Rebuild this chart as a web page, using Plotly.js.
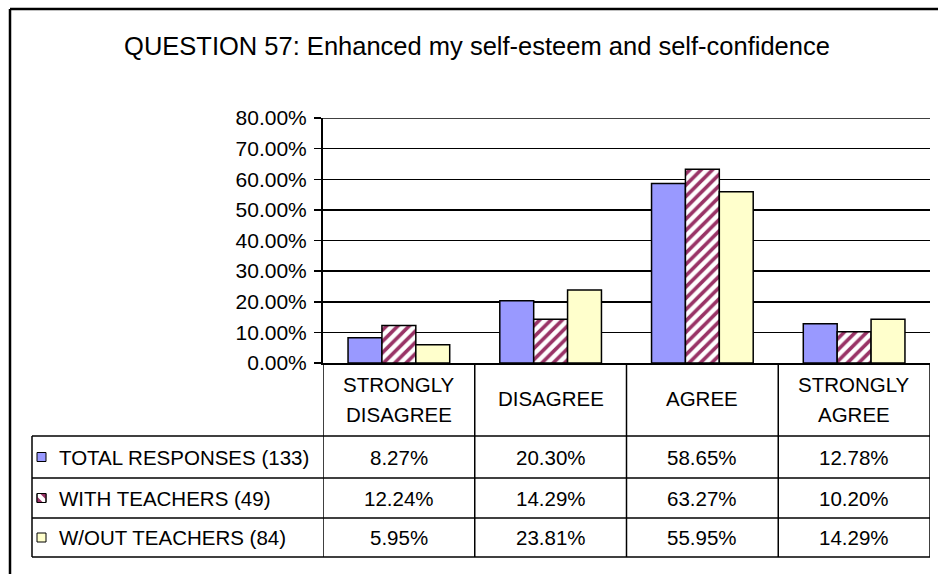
<!DOCTYPE html>
<html>
<head>
<meta charset="utf-8">
<script src="https://cdn.plot.ly/plotly-3.0.1.min.js"></script>
<style>html,body{margin:0;padding:0;background:#fff;}#chart{width:938px;height:574px;}</style>
</head>
<body>
<div id="chart"></div>
<script>
// ---- data ----
var categories = ["STRONGLY DISAGREE", "DISAGREE", "AGREE", "STRONGLY AGREE"];
var seriesNames = ["TOTAL RESPONSES (133)", "WITH TEACHERS (49)", "W/OUT TEACHERS (84)"];
var totalResponses = [0.0827, 0.2030, 0.5865, 0.1278];
var withTeachers = [0.1224, 0.1429, 0.6327, 0.1020];
var withoutTeachers = [0.0595, 0.2381, 0.5595, 0.1429];
var yTickVals = [0, 0.1, 0.2, 0.3, 0.4, 0.5, 0.6, 0.7, 0.8];
var titleText = "QUESTION 57: Enhanced my self-esteem and self-confidence";

// ---- layout helpers ----
var W = 938, H = 574;
function px(x) { return x / W; }
function py(y) { return 1 - y / H; }
var FONT = "Liberation Sans, Arial, sans-serif";
var TABLE_FONT = 20.5;
var seriesValues = [totalResponses, withTeachers, withoutTeachers];
var colors = ["#9999FF", "#FFFFFF", "#FFFFCC"];

var plotLeft = 323, plotRight = 930, plotTop = 118, plotBottom = 363;
var headerBottom = 436;
var rowLines = [436, 478, 518, 557];
var tableLeft = 32;

var traces = seriesNames.map(function (name, i) {
  var t = {
    type: "bar",
    name: name,
    x: categories,
    y: seriesValues[i],
    marker: { color: colors[i], line: { color: "#000", width: 1.5 } },
    hoverinfo: "x+y+name"
  };
  if (i === 1) {
    t.marker.pattern = { shape: "/", fgcolor: "#993366", bgcolor: "#FFFFFF", size: 8, solidity: 0.45 };
  }
  return t;
});

var shapes = [];
var lineStyle = { color: "#000", width: 1.5 };
// outer chart border (top and left visible)
shapes.push({ type: "line", xref: "paper", yref: "paper", x0: px(10), x1: px(938), y0: py(9), y1: py(9), line: { color: "#000", width: 2.5 } });
shapes.push({ type: "line", xref: "paper", yref: "paper", x0: px(10), x1: px(10), y0: py(9), y1: py(574), line: { color: "#000", width: 2.5 } });
// top gridline (80%)
shapes.push({ type: "line", xref: "x", yref: "y", x0: -0.5, x1: categories.length - 0.5, y0: 0.8, y1: 0.8, line: lineStyle });
// table horizontal lines
rowLines.forEach(function (yy) {
  shapes.push({ type: "line", xref: "paper", yref: "paper", x0: px(tableLeft), x1: px(plotRight), y0: py(yy), y1: py(yy), line: lineStyle });
});
// table left edge
shapes.push({ type: "line", xref: "paper", yref: "paper", x0: px(tableLeft), x1: px(tableLeft), y0: py(headerBottom), y1: py(rowLines[rowLines.length - 1]), line: lineStyle });
// category dividers
for (var k = 0; k <= categories.length; k++) {
  shapes.push({ type: "line", xref: "x", yref: "paper", x0: k - 0.5, x1: k - 0.5, y0: py(plotBottom), y1: py(rowLines[rowLines.length - 1]), line: lineStyle });
}

// legend keys inside table
var annotations = [];
seriesNames.forEach(function (name, i) {
  var cy = (rowLines[i] + rowLines[i + 1]) / 2;
  var x0 = 37, x1 = 46, y0 = cy - 4.5, y1 = cy + 4.5;
  shapes.push({ type: "rect", xref: "paper", yref: "paper", x0: px(x0), x1: px(x1), y0: py(y0), y1: py(y1),
    fillcolor: colors[i], line: { color: "#000", width: 1 } });
  if (i === 1) {
    var p1 = "M " + px(x0) + "," + py(y1) + " L " + px(x0) + "," + py(y1 - 6) + " L " + px(x0 + 6) + "," + py(y1) + " Z";
    var p2 = "M " + px(x0 + 3) + "," + py(y0) + " L " + px(x1) + "," + py(y0) + " L " + px(x1) + "," + py(y0 + 6) + " Z";
    shapes.push({ type: "path", xref: "paper", yref: "paper", path: p1, fillcolor: "#993366", line: { width: 0 } });
    shapes.push({ type: "path", xref: "paper", yref: "paper", path: p2, fillcolor: "#993366", line: { width: 0 } });
    shapes.push({ type: "rect", xref: "paper", yref: "paper", x0: px(x0), x1: px(x1), y0: py(y0), y1: py(y1),
      fillcolor: "rgba(0,0,0,0)", line: { color: "#000", width: 1 } });
  }
  annotations.push({ xref: "paper", yref: "paper", x: px(57), y: py(cy), xanchor: "left", yanchor: "middle",
    text: name, showarrow: false, font: { family: FONT, size: TABLE_FONT, color: "#000" } });
  seriesValues[i].forEach(function (v, j) {
    annotations.push({ xref: "x", yref: "paper", x: categories[j], y: py(cy), xanchor: "center", yanchor: "middle",
      text: (v * 100).toFixed(2) + "%", showarrow: false, font: { family: FONT, size: TABLE_FONT, color: "#000" } });
  });
});
// header category labels (one or two lines)
var headerMid = (plotBottom + headerBottom) / 2;
categories.forEach(function (c, j) {
  var parts = c.split(" ");
  var ys = parts.length === 2 ? [headerMid - 15, headerMid + 15] : [headerMid - 1];
  parts.forEach(function (p, n) {
    annotations.push({ xref: "x", yref: "paper", x: c, y: py(ys[n]), xanchor: "center", yanchor: "middle",
      text: p, showarrow: false, font: { family: FONT, size: TABLE_FONT, color: "#000" } });
  });
});

var layout = {
  width: W, height: H,
  margin: { l: 0, r: 0, t: 0, b: 0 },
  paper_bgcolor: "#FFFFFF", plot_bgcolor: "#FFFFFF",
  showlegend: false,
  barmode: "group", bargap: 0.33, bargroupgap: 0,
  title: { text: titleText, x: 477 / W, xanchor: "center", y: py(46), yanchor: "middle", yref: "container",
    font: { family: FONT, size: 25.5, color: "#000" } },
  xaxis: { type: "category", domain: [px(plotLeft), px(plotRight)], range: [-0.5, categories.length - 0.5],
    showticklabels: false, ticks: "", showgrid: false, zeroline: false,
    showline: true, linecolor: "#000", linewidth: 1.5, fixedrange: true },
  yaxis: { domain: [py(plotBottom), py(plotTop)], range: [0, 0.8], tickvals: yTickVals, tickformat: ".2%",
    ticks: "outside", ticklen: 7, tickwidth: 1.5, tickcolor: "#000", ticklabelstandoff: 3,
    showgrid: true, gridcolor: "#000", gridwidth: 1.5, zeroline: false,
    showline: true, linecolor: "#000", linewidth: 2, automargin: false,
    tickfont: { family: FONT, size: 21, color: "#000" }, fixedrange: true },
  shapes: shapes,
  annotations: annotations,
  font: { family: FONT, color: "#000" }
};

Plotly.newPlot("chart", traces, layout, { displayModeBar: false, staticPlot: true });
</script>
</body>
</html>
